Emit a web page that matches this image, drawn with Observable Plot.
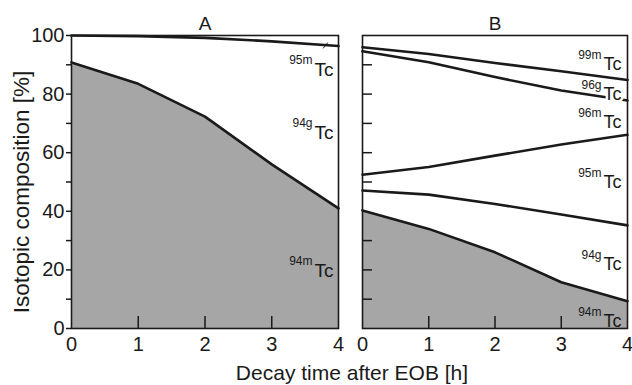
<!DOCTYPE html>
<html><head><meta charset="utf-8">
<script src="https://cdn.jsdelivr.net/npm/d3@7"></script>
<script src="https://cdn.jsdelivr.net/npm/@observablehq/plot@0.6"></script>
<style>
body{margin:0;background:#fff;}
#wrap{position:relative;width:632px;height:385px;overflow:hidden;font-family:"Liberation Sans",Arial,sans-serif;color:#1a1a1a;}
#a{position:absolute;left:0;top:0}
#b{position:absolute;left:350px;top:0}
#xlabel{position:absolute;left:352px;top:362px;transform:translateX(-50%);font-size:21px;line-height:21px;white-space:nowrap;}
svg{overflow:visible}
</style></head><body>
<div id="wrap"><div id="a"></div><div id="b"></div><div id="xlabel">Decay time after EOB [h]</div></div>
<script>
// Decay time after EOB [h]
const hours = [0, 1, 2, 3, 4];
// Panel A: cumulative boundaries [%]
const a94m = [90.8, 83.5, 72.3, 56.0, 41.0];
const a94gTop = [100, 99.8, 99.2, 98.0, 96.4];
// Panel B: cumulative boundaries [%]
const b94m = [40.3, 34.0, 26.0, 15.8, 9.3];
const b94gTop = [47.1, 45.7, 42.5, 38.9, 35.2];
const b95mTop = [52.5, 55.1, 59.0, 62.8, 66.1];
const b96mTop = [94.6, 90.9, 85.8, 81.2, 77.8];
const b96gTop = [96.0, 93.7, 90.6, 87.8, 84.8];
// tick values
const yMajor = [0, 20, 40, 60, 80, 100];
const yMinor = [10, 30, 50, 70, 90];
const bInnerY = [10, 20, 30, 50, 60, 70, 80, 90];
const innerX = [1, 2, 3];
// isotope labels (superscript, y position of label in %)
const labelsA = [{sup: "95m", main: "Tc", y: 88.4}, {sup: "94g", main: "Tc", y: 66.9}, {sup: "94m", main: "Tc", y: 19.8}];
const labelsB = [{sup: "99m", main: "Tc", y: 90.1}, {sup: "96g", main: "Tc", y: 79.9}, {sup: "96m", main: "Tc", y: 70.3},
                 {sup: "95m", main: "Tc", y: 49.8}, {sup: "94g", main: "Tc", y: 21.8}, {sup: "94m", main: "Tc", y: 2.4}];

const rows = arr => hours.map((h, i) => ({h, v: arr[i]}));
const INK = "#1a1a1a", GRAY = "#a6a6a6", LW = 2.6;
const font = "Liberation Sans, Arial, sans-serif";

const plotA = Plot.plot({
  width: 350, height: 360,
  marginLeft: 71, marginRight: 12, marginTop: 35, marginBottom: 32,
  x: {domain: [0, 4]}, y: {domain: [0, 100]},
  style: {fontFamily: font, background: "transparent", color: INK},
  marks: [
    Plot.areaY(rows(a94m), {x: "h", y: "v", fill: GRAY}),
    Plot.line(rows(a94m), {x: "h", y: "v", stroke: INK, strokeWidth: LW}),
    Plot.line(rows(a94gTop), {x: "h", y: "v", stroke: INK, strokeWidth: LW}),
    Plot.link([{x1: 3.77, y1: 95.6, x2: 3.84, y2: 97.6}], {x1: "x1", y1: "y1", x2: "x2", y2: "y2", stroke: INK, strokeWidth: 1}),
    Plot.frame({stroke: INK, strokeWidth: 1.6}),
    Plot.ruleX(innerX, {y1: 0, y2: 4.1, stroke: INK, strokeWidth: 1.5}),
    Plot.axisY(yMajor, {tickSize: 5, tickPadding: 2, fontSize: 20, label: null, strokeWidth: 1.5}),
    Plot.axisY(yMinor, {tickSize: 5, tickFormat: () => "", label: null, strokeWidth: 1.5}),
    Plot.axisX(hours, {tickSize: 0, tickPadding: 8, fontSize: 20, label: null}),
    Plot.text(["A"], {frameAnchor: "top", lineAnchor: "middle", dy: -11.5, fontSize: 19}),
    Plot.text(["Isotopic composition [%]"], {frameAnchor: "left", textAnchor: "middle", lineAnchor: "middle", rotate: -90, dx: -50, dy: 10, fontSize: 22.5}),
    Plot.text(labelsA, {x: () => 4, y: "y", text: "main", textAnchor: "end", dx: -5, fontSize: 19}),
    Plot.text(labelsA, {x: () => 4, y: "y", text: "sup", textAnchor: "end", dx: -26, dy: -9, fontSize: 12})
  ]
});
document.getElementById("a").append(plotA);

const plotB = Plot.plot({
  width: 282, height: 360,
  marginLeft: 12, marginRight: 5, marginTop: 35, marginBottom: 32,
  x: {domain: [0, 4]}, y: {domain: [0, 100], axis: null},
  style: {fontFamily: font, background: "transparent", color: INK},
  marks: [
    Plot.areaY(rows(b94m), {x: "h", y: "v", fill: GRAY}),
    Plot.line(rows(b94m), {x: "h", y: "v", stroke: INK, strokeWidth: LW}),
    Plot.line(rows(b94gTop), {x: "h", y: "v", stroke: INK, strokeWidth: LW}),
    Plot.line(rows(b95mTop), {x: "h", y: "v", stroke: INK, strokeWidth: LW}),
    Plot.line(rows(b96mTop), {x: "h", y: "v", stroke: INK, strokeWidth: LW}),
    Plot.line(rows(b96gTop), {x: "h", y: "v", stroke: INK, strokeWidth: LW}),
    Plot.frame({stroke: INK, strokeWidth: 1.6}),
    Plot.ruleX(innerX, {y1: 0, y2: 4.1, stroke: INK, strokeWidth: 1.5}),
    Plot.ruleY(bInnerY, {x1: 0, x2: 0.15, stroke: INK, strokeWidth: 1.5}),
    Plot.axisX(hours, {tickSize: 0, tickPadding: 8, fontSize: 20, label: null}),
    Plot.text(["B"], {frameAnchor: "top", lineAnchor: "middle", dy: -11.5, fontSize: 19}),
    Plot.text(labelsB.filter(d => d.sup === "96g"), {x: () => 4, y: "y", text: "main", textAnchor: "end", dx: -6, fontSize: 18,
      fill: INK, stroke: "white", strokeWidth: 5, paintOrder: "stroke"}),
    Plot.text(labelsB.filter(d => d.sup !== "96g"), {x: () => 4, y: "y", text: "main", textAnchor: "end", dx: -6, fontSize: 18, fill: INK}),
    Plot.text(labelsB, {x: () => 4, y: "y", text: "sup", textAnchor: "end", dx: -26, dy: -9, fontSize: 12})
  ]
});
document.getElementById("b").append(plotB);
</script>
</body></html>
